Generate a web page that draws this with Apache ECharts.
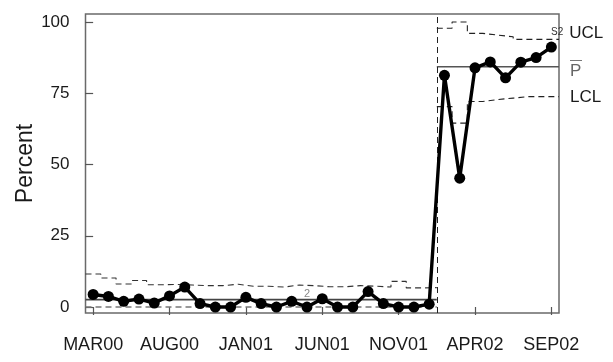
<!DOCTYPE html>
<html>
<head>
<meta charset="utf-8">
<script src="https://cdn.jsdelivr.net/npm/echarts@6/dist/echarts.min.js"></script>
<style>
html,body{margin:0;padding:0;background:#fff;}
#chart{width:613px;height:362px;}
</style>
</head>
<body>
<div id="chart"></div>
<script>
// ---- data ----
const months = ['MAR00','APR00','MAY00','JUN00','JUL00','AUG00','SEP00','OCT00','NOV00','DEC00',
  'JAN01','FEB01','MAR01','APR01','MAY01','JUN01','JUL01','AUG01','SEP01','OCT01','NOV01','DEC01',
  'JAN02','FEB02','MAR02','APR02','MAY02','JUN02','JUL02','AUG02','SEP02'];
const tickLabels = ['MAR00','AUG00','JAN01','JUN01','NOV01','APR02','SEP02'];
const yTicks = [0, 25, 50, 75, 100];
const percent = [4.4,3.7,2.0,2.8,1.4,3.9,7.0,1.2,0,0,3.4,1.2,0,2.0,0,2.9,0,0,5.4,1.2,0,0,1.0,
  81.3,45.2,83.9,86.0,80.4,85.9,87.5,91.2];
// phase 1 (MAR00..JAN02)
const ucl1 = [11.6,10.2,8.1,9.3,7.8,7.9,7.7,7.5,7.5,8.0,7.3,7.3,7.0,7.7,7.5,7.1,7.1,7.5,7.3,7.0,9.0,6.7,6.8];
const lcl1 = [0,0,0,0,0,0,0,0,0,0,0,0,0,0,0,0,0,0,0,0,0,0,0];
const center1 = 2.6;
// phase 2 (FEB02..SEP02)
const ucl2 = [97.8,100,96.0,95.4,94.8,93.9,93.9,93.9];
const lcl2 = [70.3,64.5,72.1,72.8,73.3,73.8,73.8,73.8];
const center2 = 84.3;
const phaseStart = 23; // index of FEB02
const annotation = {text:'2', month:14, value:4.7};

// ---- helpers ----
function steps(arr, start){
  const out = [];
  arr.forEach((v,i)=>{ out.push([start+i-0.5, v]); out.push([start+i+0.5, v]); });
  return out;
}
const FONT = "'Liberation Sans', Arial, Helvetica, sans-serif";
const chart = echarts.init(document.getElementById('chart'), null, {renderer:'canvas'});
const tickIdx = tickLabels.map(t => months.indexOf(t));
const lastIdx = months.length - 1;

const option = {
  animation:false,
  backgroundColor:'#fff',
  grid:{left:85.5, right:54, top:14, bottom:49, show:true, borderColor:'#6a6a6a', borderWidth:1.5, backgroundColor:'transparent'},
  xAxis:{
    type:'value', min:-0.5, max:lastIdx+0.5, offset:3,
    axisLine:{show:false},
    splitLine:{show:false},
    axisTick:{show:true, customValues:tickIdx, length:8, lineStyle:{color:'#555', width:1.2}},
    axisLabel:{customValues:tickIdx, formatter:v=>months[Math.round(v)], margin:20,
      fontFamily:FONT, fontSize:18, color:'#1a1a1a'}
  },
  yAxis:{
    type:'value', min:-2.1, max:102.8,
    name:'Percent', nameLocation:'middle', nameGap:48, nameRotate:90, nameMoveOverlap:false,
    nameTextStyle:{fontFamily:FONT, fontSize:23, color:'#1a1a1a'},
    axisLine:{show:false},
    splitLine:{show:false},
    axisTick:{show:true, customValues:yTicks, length:8, lineStyle:{color:'#555', width:1.2}},
    axisLabel:{customValues:yTicks, margin:16, fontFamily:FONT, fontSize:17, color:'#1a1a1a'}
  },
  series:[
    {type:'line', name:'UCL1', data:steps(ucl1,0), symbol:'none',
      lineStyle:{color:'#333', width:1.1, type:[6,4]}, z:2},
    {type:'line', name:'LCL1', data:steps(lcl1,0), symbol:'none',
      lineStyle:{color:'#777', width:1.3, type:[6,4]}, z:2},
    {type:'line', name:'CL1', data:[[-0.5,center1],[phaseStart-0.5,center1]], symbol:'none',
      lineStyle:{color:'#444', width:1.6}, z:2,
      markLine:{symbol:'none', silent:true, label:{show:false},
        lineStyle:{color:'#222', width:1, type:[6,4]},
        data:[{xAxis:phaseStart-0.5}]}},
    {type:'line', name:'UCL2', data:steps(ucl2,phaseStart), symbol:'none',
      lineStyle:{color:'#222', width:1.1, type:[6,4]}, z:2,
      endLabel:{show:true, distance:0, offset:[-8,-6], formatter:'{s|S2}{u|UCL}',
        rich:{s:{fontFamily:FONT, fontSize:10, color:'#333', padding:[0,6,2,0]},
              u:{fontFamily:FONT, fontSize:17, color:'#1a1a1a'}}}},
    {type:'line', name:'LCL2', data:steps(lcl2,phaseStart), symbol:'none',
      lineStyle:{color:'#222', width:1.1, type:[6,4]}, z:2,
      endLabel:{show:true, distance:11, offset:[0,1], formatter:'LCL',
        fontFamily:FONT, fontSize:17, color:'#1a1a1a'}},
    {type:'line', name:'CL2', data:[[phaseStart-0.5,center2],[lastIdx+0.5,center2]], symbol:'none',
      lineStyle:{color:'#555', width:1.6}, z:2,
      endLabel:{show:true, distance:11, offset:[0,2], formatter:'{o|—}\n{p|P}',
        rich:{o:{fontFamily:FONT, fontSize:12, lineHeight:6, color:'#666'},
              p:{fontFamily:FONT, fontSize:17, lineHeight:17, color:'#666'}}}},
    {type:'line', name:'Percent', data:percent.map((v,i)=>[i,v]),
      symbol:'circle', symbolSize:11,
      itemStyle:{color:'#000'}, lineStyle:{color:'#000', width:3.4}, z:5,
      markPoint:{symbol:'circle', symbolSize:0,
        label:{show:true, formatter:annotation.text, fontFamily:FONT, fontSize:11, color:'#888', offset:[0,0]},
        data:[{coord:[annotation.month, annotation.value]}]}}
  ]
};
chart.setOption(option);
</script>
</body>
</html>
